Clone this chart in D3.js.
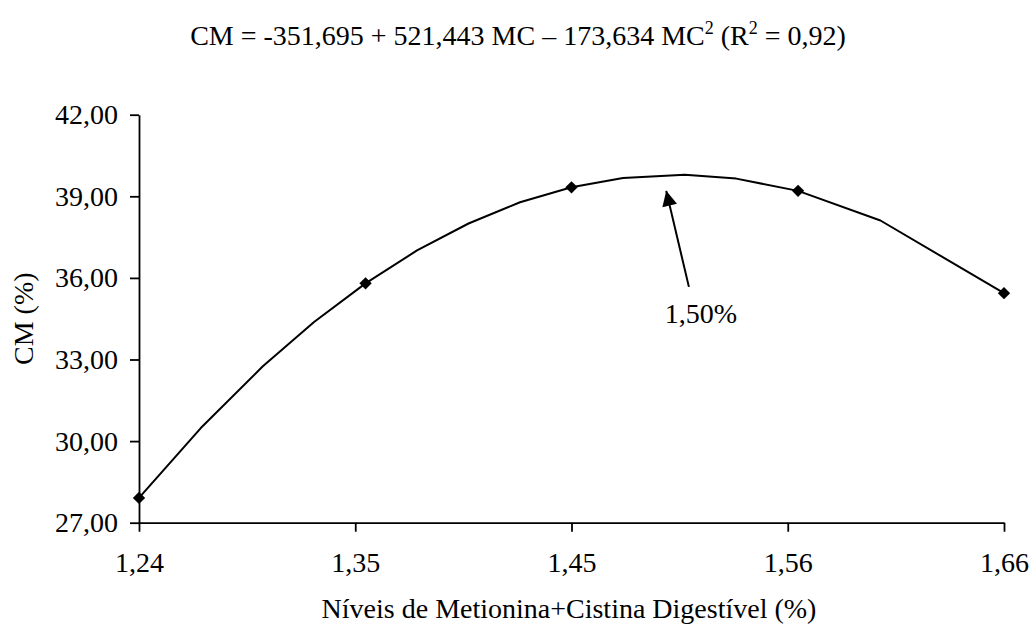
<!DOCTYPE html>
<html>
<head>
<meta charset="utf-8">
<script src="https://cdn.jsdelivr.net/npm/d3@7"></script>
<style>
  html, body { margin: 0; padding: 0; background: #fff; }
  svg { display: block; }
  text { font-family: "Liberation Serif", "Times New Roman", serif; fill: #000; }
</style>
</head>
<body>
<svg id="chart" width="1033" height="626"></svg>
<script>
// Observed levels (markers) and CM values
const levels = [1.24, 1.35, 1.45, 1.56, 1.66];
const cmValues = [27.91, 35.80, 39.33, 39.20, 35.44];

// Fitted curve vertices
const curveX = [1.24, 1.27, 1.30, 1.325, 1.35, 1.375, 1.40, 1.425, 1.45, 1.475, 1.505, 1.53, 1.56, 1.60, 1.66];
const curveY = [27.91, 30.48, 32.74, 34.38, 35.80, 37.01, 38.00, 38.78, 39.33, 39.67, 39.79, 39.65, 39.20, 38.11, 35.44];

// Axis ticks
const xTickValues = [1.24, 1.345, 1.45, 1.555, 1.66];
const xTickLabels = ["1,24", "1,35", "1,45", "1,56", "1,66"];
const yTickValues = [27, 30, 33, 36, 39, 42];

// Optimum annotation (arrow tail -> tip, in data units)
const arrowFrom = [1.507, 35.67];
const arrowTo = [1.496, 39.20];
const arrowLabel = "1,50%";

const svg = d3.select("#chart");
const ptBR = d3.formatLocale({ decimal: ",", thousands: ".", grouping: [3], currency: ["R$", ""] });
const fmtY = ptBR.format(".2f");

const x = d3.scaleLinear().domain([1.24, 1.66]).range([139, 1004]);
const y = d3.scaleLinear().domain([27, 42]).range([522.7, 114.7]);

// Title with superscripts
const title = svg.append("text")
  .attr("x", 518).attr("y", 45)
  .attr("text-anchor", "middle")
  .style("font-size", "28px");
title.append("tspan").text("CM = -351,695 + 521,443 MC \u2013 173,634 MC");
title.append("tspan").attr("dy", -11).style("font-size", "18px").text("2");
title.append("tspan").attr("dy", 11).text(" (R");
title.append("tspan").attr("dy", -11).style("font-size", "18px").text("2");
title.append("tspan").attr("dy", 11).text(" = 0,92)");

// Axes
const xAxis = svg.append("g")
  .attr("transform", `translate(0,${y(27)})`)
  .call(d3.axisBottom(x).tickValues(xTickValues).tickFormat((d, i) => xTickLabels[i]).tickSize(9).tickSizeOuter(0).tickPadding(20));
const yAxis = svg.append("g")
  .attr("transform", `translate(${x(1.24)},0)`)
  .call(d3.axisLeft(y).tickValues(yTickValues).tickFormat(fmtY).tickSize(9).tickSizeOuter(0).tickPadding(12));

[xAxis, yAxis].forEach(g => {
  g.select(".domain").attr("stroke", "#000").attr("stroke-width", 1.8);
  g.selectAll(".tick line").attr("stroke", "#000").attr("stroke-width", 1.8);
  g.selectAll(".tick text")
    .style("font-family", "'Liberation Serif', 'Times New Roman', serif")
    .style("font-size", "28px").attr("fill", "#000");
});

// Axis titles
svg.append("text")
  .attr("x", 569).attr("y", 618)
  .attr("text-anchor", "middle")
  .style("font-size", "28px")
  .text("N\u00edveis de Metionina+Cistina Digest\u00edvel (%)");

svg.append("text")
  .attr("transform", `translate(33,${(y(27) + y(42)) / 2}) rotate(-90)`)
  .attr("text-anchor", "middle")
  .style("font-size", "28px")
  .text("CM (%)");

// Fitted curve
const curveData = curveX.map((d, i) => [d, curveY[i]]);
svg.append("path")
  .datum(curveData)
  .attr("fill", "none")
  .attr("stroke", "#000")
  .attr("stroke-width", 2)
  .attr("stroke-linejoin", "round")
  .attr("d", d3.line().x(d => x(d[0])).y(d => y(d[1])));

// Diamond markers
const diamond = d3.symbol().type(d3.symbolSquare).size(76);
svg.append("g").selectAll("path")
  .data(levels.map((d, i) => [d, cmValues[i]]))
  .join("path")
  .attr("d", diamond)
  .attr("transform", d => `translate(${x(d[0])},${y(d[1])}) rotate(45)`)
  .attr("fill", "#000");

// Arrow pointing to the optimum
const defs = svg.append("defs");
defs.append("marker")
  .attr("id", "arrowhead")
  .attr("viewBox", "0 0 10 10")
  .attr("refX", 10).attr("refY", 5)
  .attr("markerWidth", 8).attr("markerHeight", 7.5)
  .attr("markerUnits", "strokeWidth")
  .attr("orient", "auto")
  .append("path")
  .attr("d", "M0,0 L10,5 L0,10 Z")
  .attr("fill", "#000");

svg.append("line")
  .attr("x1", x(arrowFrom[0])).attr("y1", y(arrowFrom[1]))
  .attr("x2", x(arrowTo[0])).attr("y2", y(arrowTo[1]))
  .attr("stroke", "#000").attr("stroke-width", 2)
  .attr("marker-end", "url(#arrowhead)");

svg.append("text")
  .attr("x", 701).attr("y", 323)
  .attr("text-anchor", "middle")
  .style("font-size", "28px")
  .text(arrowLabel);
</script>
</body>
</html>
